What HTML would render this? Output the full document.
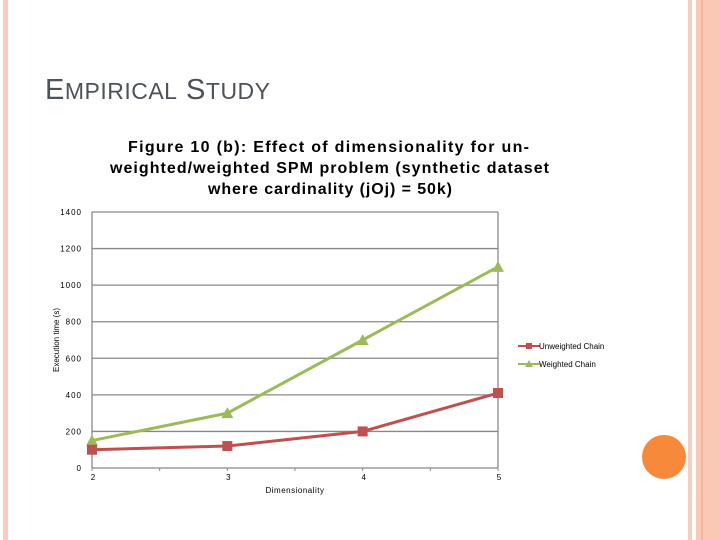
<!DOCTYPE html>
<html><head><meta charset="utf-8"><style>
body{margin:0;width:720px;height:540px;background:#fff;position:relative;overflow:hidden;font-family:"Liberation Sans",sans-serif}
.a{position:absolute}
</style></head><body>
<div class="a" style="left:3px;top:0;width:5px;height:540px;background:#f8cdbd"></div>
<div class="a" style="left:688px;top:0;width:4px;height:540px;background:#f8cdbd"></div>
<div class="a" style="left:696px;top:0;width:24px;height:540px;background:#f9c9b6"></div>
<div class="a" style="left:701px;top:0;width:2px;height:540px;background:#f2b39b"></div>
<div class="a" style="left:45px;top:74px;font-size:29px;color:#4d525a;letter-spacing:0.5px">E<span style="font-size:23px">MPIRICAL</span> S<span style="font-size:23px">TUDY</span></div>
<div class="a" style="left:642px;top:435px;width:44px;height:44px;border-radius:50%;background:#f68a3a"></div>
<svg class="a" style="left:0;top:0" width="720" height="540" id="c"></svg>
<script>
const categories=[2,3,4,5];
const unweighted=[100,120,200,410];
const weighted=[150,300,700,1100];
const yTicks=[0,200,400,600,800,1000,1200,1400];
const NS="http://www.w3.org/2000/svg";
const svg=document.getElementById('c');
const x0=92,x1=498,y0=468,y1=212;
const xs=i=>x0+(x1-x0)*i/(categories.length-1);
const ys=v=>y0-(y0-y1)*v/1400;
function mk(t,a,p){const e=document.createElementNS(NS,t);for(const k in a)e.setAttribute(k,a[k]);(p||svg).appendChild(e);return e;}
let t=mk('text',{x:128,y:152,'font-size':16,'font-weight':'bold',fill:'#000',textLength:401,lengthAdjust:'spacing'});t.textContent='Figure 10 (b): Effect of dimensionality for un-';


t=mk('text',{x:110,y:173,'font-size':16,'font-weight':'bold',fill:'#000',textLength:439,lengthAdjust:'spacing'});t.textContent='weighted/weighted SPM problem (synthetic dataset';


t=mk('text',{x:208,y:194,'font-size':16,'font-weight':'bold',fill:'#000',textLength:244,lengthAdjust:'spacing'});t.textContent='where cardinality (j\u039Fj) = 50k)';


yTicks.forEach(v=>{
 const l=mk('line',{x1:x0,x2:x1,y1:ys(v),y2:ys(v),stroke:'#888','stroke-width':1.3});
 
 
 const tx=mk('text',{x:82,y:ys(v)+3,'text-anchor':'end','font-size':8,fill:'#000','letter-spacing':1});tx.textContent=v;
 
 
});
let b=mk('line',{x1:x0,x2:x0,y1:y1,y2:y0,stroke:'#888','stroke-width':1.3});
b=mk('line',{x1:x1,x2:x1,y1:y1,y2:y0,stroke:'#888','stroke-width':1.3});
for(let i=0;i<=6;i++){const xx=x0+(x1-x0)*i/6;const k=mk('line',{x1:xx,x2:xx,y1:y0,y2:y0+3,stroke:'#888'});}
categories.forEach((c,i)=>{const tx=mk('text',{x:xs(i)+1,y:y0+12,'text-anchor':'middle','font-size':8});tx.textContent=c;
 
 });
t=mk('text',{x:295,y:493,'text-anchor':'middle','font-size':8,'letter-spacing':0.5});t.textContent='Dimensionality';

t=mk('text',{x:59,y:340,'text-anchor':'middle','font-size':8,transform:'rotate(-90 59 340)'});t.textContent='Execution time (s)';

function series(vals,col,shape,name){
 const p=mk('polyline',{points:vals.map((v,i)=>xs(i)+','+ys(v)).join(' '),fill:'none',stroke:col,'stroke-width':3});
 
 
 vals.forEach((v,i)=>{const x=xs(i),y=ys(v);let m;
  if(shape==='sq')m=mk('rect',{x:x-5,y:y-5,width:10,height:10,fill:col});
  else m=mk('polygon',{points:`${x},${y-6} ${x-6},${y+5} ${x+6},${y+5}`,fill:col});
  
  });
}
series(weighted,'#9bbb59','tri','weighted');
series(unweighted,'#c0504d','sq','unweighted');
function legend(y,col,shape,label,name){
 const g=mk('g',{});
 mk('line',{x1:518,x2:540,y1:y,y2:y,stroke:col,'stroke-width':2},g);
 if(shape==='sq')mk('rect',{x:526,y:y-3,width:6,height:6,fill:col},g);else mk('polygon',{points:`529,${y-4} 525,${y+3} 533,${y+3}`,fill:col},g);
 const tx=mk('text',{x:539,y:y+3,'font-size':8},g);tx.textContent=label;
}
legend(346,'#c0504d','sq','Unweighted Chain','unweighted');
legend(364,'#9bbb59','tri','Weighted Chain','weighted');
</script>
</body></html>
